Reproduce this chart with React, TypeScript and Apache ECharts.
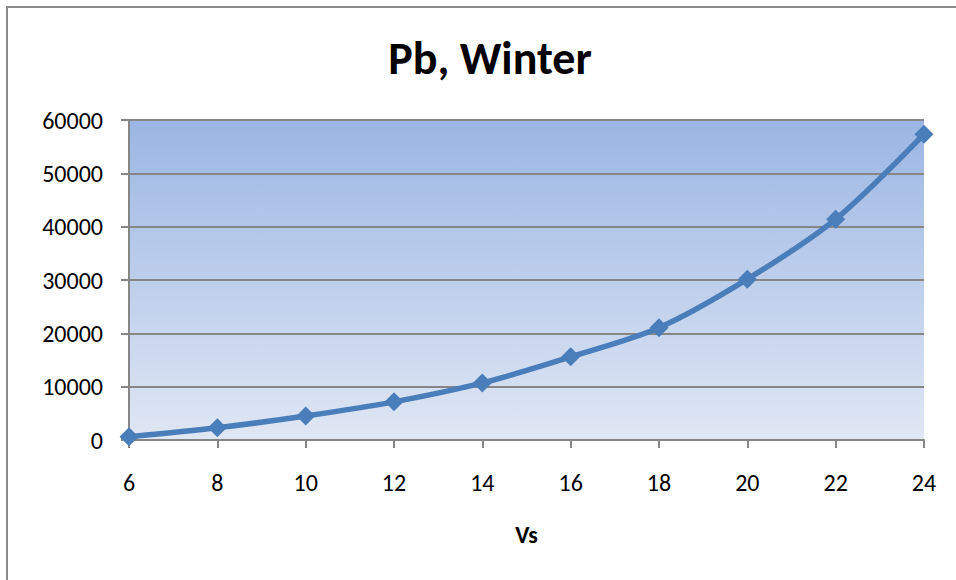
import React, { useEffect, useRef } from "react";
import * as echarts from "echarts";

const vsValues = [6, 8, 10, 12, 14, 16, 18, 20, 22, 24];
const pbWinter = [620, 2300, 4500, 7150, 10700, 15600, 21050, 30150, 41400, 57350];
const chartTitle = "Pb, Winter";
const xAxisName = "Vs";

export default function App() {
  const ref = useRef<HTMLDivElement>(null);
  useEffect(() => {
    if (!ref.current) return;
    const chart = echarts.init(ref.current, undefined, { renderer: "svg" });
    const font = "Carlito, 'Open Sans', 'Liberation Sans', sans-serif";
    chart.setOption({
      animation: false,
      backgroundColor: "#ffffff",
      title: {
        text: chartTitle,
        left: 477,
        top: 22,
        textAlign: "center",
        textStyle: { fontFamily: font, fontWeight: "bold", fontSize: 46, color: "#000" },
      },
      grid: {
        left: 121,
        right: 34,
        top: 112,
        bottom: 142,
        show: true,
        borderWidth: 0,
        backgroundColor: new echarts.graphic.LinearGradient(0, 0, 0, 1, [
          { offset: 0, color: "#9bb6e3" },
          { offset: 1, color: "#e0e7f4" },
        ]),
      },
      xAxis: {
        type: "value",
        min: 6,
        max: 24,
        interval: 2,
        name: xAxisName,
        nameLocation: "middle",
        nameGap: 82,
        nameTextStyle: { fontFamily: font, fontWeight: "bold", fontSize: 24, color: "#000" },
        axisLine: { show: true, lineStyle: { color: "#868686", width: 2 } },
        axisTick: { show: true, length: 8, lineStyle: { color: "#868686", width: 2 } },
        axisLabel: { fontFamily: font, fontSize: 24, color: "#000", margin: 30 },
        splitLine: { show: false },
      },
      yAxis: {
        type: "value",
        min: 0,
        max: 60000,
        interval: 10000,
        axisLine: { show: true, lineStyle: { color: "#868686", width: 2 } },
        axisTick: { show: true, length: 8, lineStyle: { color: "#868686", width: 2 } },
        axisLabel: {
          fontFamily: font,
          fontSize: 24,
          color: "#000",
          margin: 26,
          formatter: (v: number) => String(v),
        },
        splitLine: { show: true, lineStyle: { color: "#868686", width: 2 } },
      },
      series: [
        {
          type: "line",
          data: vsValues.map((v, i) => [v, pbWinter[i]]),
          smooth: 0.3,
          symbol: "diamond",
          symbolSize: 19,
          lineStyle: { color: "#4a7ebb", width: 5.5 },
          itemStyle: { color: "#4a7ebb" },
        },
      ],
    });
    return () => chart.dispose();
  }, []);
  return (
    <div
      style={{
        position: "fixed",
        left: 6,
        top: 6,
        width: 960,
        height: 590,
        borderLeft: "2px solid #8a8a8a",
        borderTop: "2px solid #8a8a8a",
        background: "#fff",
      }}
    >
      <div ref={ref} style={{ width: 950, height: 574 }} />
    </div>
  );
}
